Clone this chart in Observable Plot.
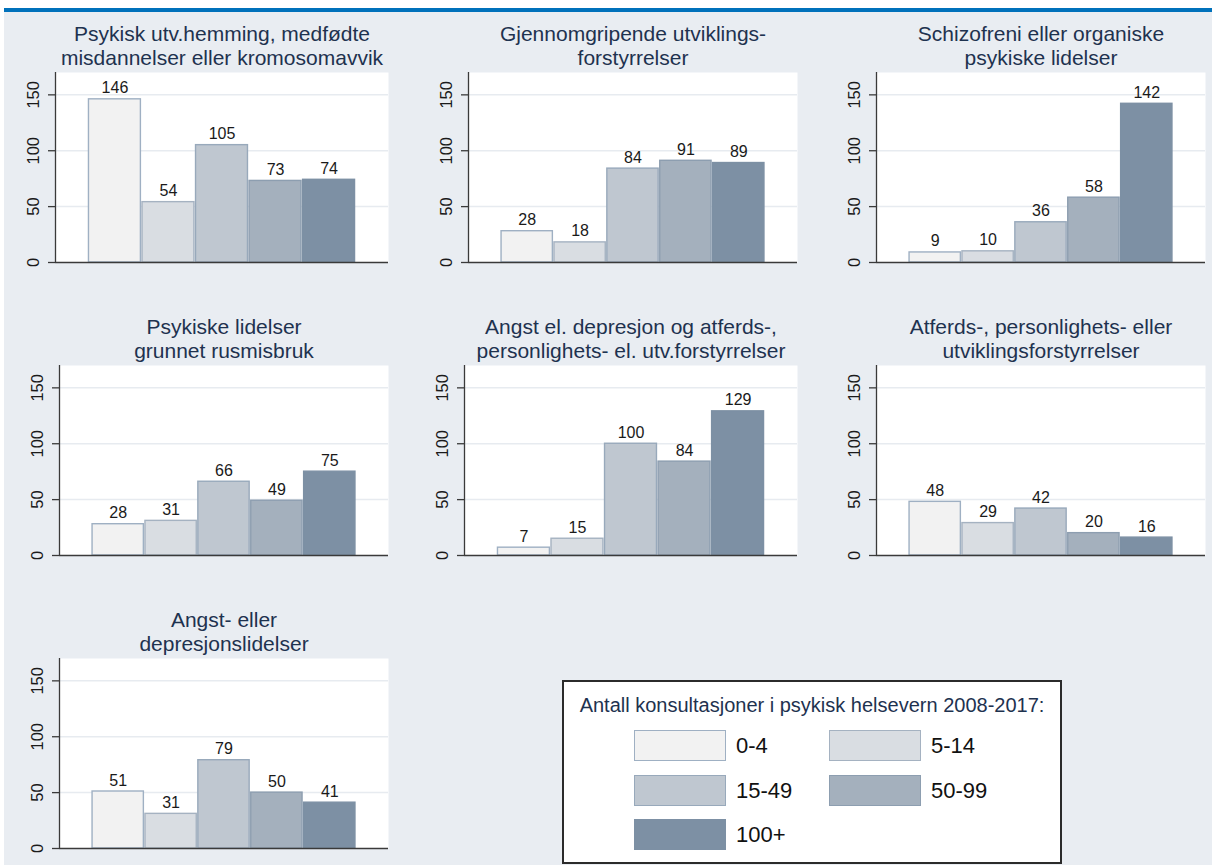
<!DOCTYPE html>
<html>
<head>
<meta charset="utf-8">
<script src="https://cdn.jsdelivr.net/npm/d3@7"></script>
<script src="https://cdn.jsdelivr.net/npm/@observablehq/plot@0.6"></script>
<style>
  html, body { margin: 0; padding: 0; }
  body { width: 1215px; height: 865px; position: relative; overflow: hidden; background: #ffffff;
         font-family: "Liberation Sans", Arial, sans-serif; }
  #bg { position: absolute; left: 4px; top: 12px; width: 1208px; height: 853px; background: #e9edf2; }
  #band { position: absolute; left: 4px; top: 8px; width: 1208px; height: 4px; background: #0071bb; }
  #legend { position: absolute; left: 562px; top: 680px; width: 500px; height: 184px; box-sizing: border-box;
            border: 2px solid #2b2b2b; background: #ffffff; }
  #legend .ltitle { position: absolute; left: 0; right: 0; text-align: center; font-size: 20px; line-height: 20px; color: #1e324f; white-space: nowrap; }
  #legend .sw { position: absolute; box-sizing: border-box; width: 92px; height: 31px; border: 1.5px solid #999; }
  #legend .lab { position: absolute; font-size: 22px; line-height: 22px; color: #111; white-space: nowrap; }
</style>
</head>
<body>
<div id="bg"></div>
<div id="band"></div>
<div id="charts"></div>
<div id="legend"></div>
<script>
// ---------------- data ----------------
const categories = ["0-4", "5-14", "15-49", "50-99", "100+"];
const titles = [
  "Psykisk utv.hemming, medfødte\nmisdannelser eller kromosomavvik",
  "Gjennomgripende utviklings-\nforstyrrelser",
  "Schizofreni eller organiske\npsykiske lidelser",
  "Psykiske lidelser\ngrunnet rusmisbruk",
  "Angst el. depresjon og atferds-,\npersonlighets- el. utv.forstyrrelser",
  "Atferds-, personlighets- eller\nutviklingsforstyrrelser",
  "Angst- eller\ndepresjonslidelser"
];
const valuesUtvHemming   = [146, 54, 105, 73, 74];
const valuesGjennomgrip  = [28, 18, 84, 91, 89];
const valuesSchizofreni  = [9, 10, 36, 58, 142];
const valuesRusmisbruk   = [28, 31, 66, 49, 75];
const valuesAngstAtferd  = [7, 15, 100, 84, 129];
const valuesAtferd       = [48, 29, 42, 20, 16];
const valuesAngstDepr    = [51, 31, 79, 50, 41];
const yTicks = [0, 50, 100, 150];
const legendTitle = "Antall konsultasjoner i psykisk helsevern 2008-2017:";

// ---------------- styles ----------------
const fillColors   = ["#f2f2f2", "#d9dde2", "#bfc7d0", "#a4b0bd", "#7d90a4"];
const strokeColors = ["#9fb0c3", "#a5b2c1", "#98a9bb", "#8d9eb0", "#7d90a4"];
const FONT = "'Liberation Sans', Arial, sans-serif";
const AXIS = "#3a3a3a";
const TITLE = "#1e324f";
const yMax = 170;
const xLo = -1.11, xHi = 5.11;

// layout of the seven panels (plot-area edges, px)
const allValues = [valuesUtvHemming, valuesGjennomgrip, valuesSchizofreni, valuesRusmisbruk, valuesAngstAtferd, valuesAtferd, valuesAngstDepr];
const layout = [
  {l: 55,  r: 388,  t: 72},
  {l: 468, r: 797,  t: 72},
  {l: 876, r: 1205, t: 72},
  {l: 59,  r: 388,  t: 365},
  {l: 464, r: 797,  t: 365},
  {l: 876, r: 1205, t: 365},
  {l: 59,  r: 388,  t: 658}
];
const PH = 190, ML = 50, MR = 15, MT = 70, MB = 10;

const charts = document.getElementById("charts");
layout.forEach((pos, k) => {
  const vals = allValues[k];
  const data = categories.map((c, i) => ({cat: c, idx: i, value: vals[i]}));
  const w = pos.r - pos.l;
  const svg = Plot.plot({
    width: w + ML + MR,
    height: PH + MT + MB,
    marginLeft: ML, marginRight: MR, marginTop: MT, marginBottom: MB,
    style: {background: "none", overflow: "visible", fontFamily: FONT},
    x: {domain: [xLo, xHi], axis: null},
    y: {domain: [0, yMax], axis: null},
    color: {type: "identity"},
    marks: [
      Plot.frame({fill: "white", stroke: "none"}),
      Plot.ruleY(yTicks.filter(t => t > 0), {stroke: "#e7ebf0", strokeWidth: 1.5}),
      Plot.rect(data, {
        x1: d => d.idx - 0.485, x2: d => d.idx + 0.485, y1: 0, y2: "value",
        fill: d => fillColors[d.idx], stroke: d => strokeColors[d.idx], strokeWidth: 1.4
      }),
      Plot.text(data, {x: "idx", y: "value", text: d => String(d.value), lineAnchor: "bottom", dy: -6,
                       fontSize: 16, fill: "#1a1a1a"}),
      Plot.ruleY([0], {stroke: AXIS, strokeWidth: 1.3}),
      Plot.ruleX([xLo], {stroke: AXIS, strokeWidth: 1.3}),
      Plot.ruleY(yTicks, {x1: xLo, x2: xLo, insetLeft: -7, stroke: AXIS, strokeWidth: 1.3}),
      Plot.text(yTicks, {x: xLo, y: d => d, text: d => String(d), rotate: -90, dx: -22, fontSize: 16.5, fill: "#1a1a1a"}),
      Plot.text([titles[k]], {frameAnchor: "top", text: d => d, lineAnchor: "bottom", dy: -8,
                              fontSize: 21, lineHeight: 1.12, fill: TITLE})
    ]
  });
  svg.style.position = "absolute";
  svg.style.left = (pos.l - ML) + "px";
  svg.style.top = (pos.t - MT) + "px";
  svg.style.maxWidth = "none";
  charts.appendChild(svg);
});

// ---------------- legend ----------------
const legend = document.getElementById("legend");
const lt = document.createElement("div");
lt.className = "ltitle";
lt.style.top = "13px";
lt.textContent = legendTitle;
legend.appendChild(lt);
const swLeft = [70, 265];
const labLeft = [172, 367];
const rowTop = [48, 93, 137];
categories.forEach((c, i) => {
  const col = i % 2, row = Math.floor(i / 2);
  const sw = document.createElement("div");
  sw.className = "sw";
  sw.style.left = swLeft[col] + "px";
  sw.style.top = rowTop[row] + "px";
  sw.style.background = fillColors[i];
  sw.style.borderColor = strokeColors[i];
  legend.appendChild(sw);
  const lab = document.createElement("div");
  lab.className = "lab";
  lab.style.left = labLeft[col] + "px";
  lab.style.top = (rowTop[row] + 4.5) + "px";
  lab.textContent = c;
  legend.appendChild(lab);
});
</script>
</body>
</html>
